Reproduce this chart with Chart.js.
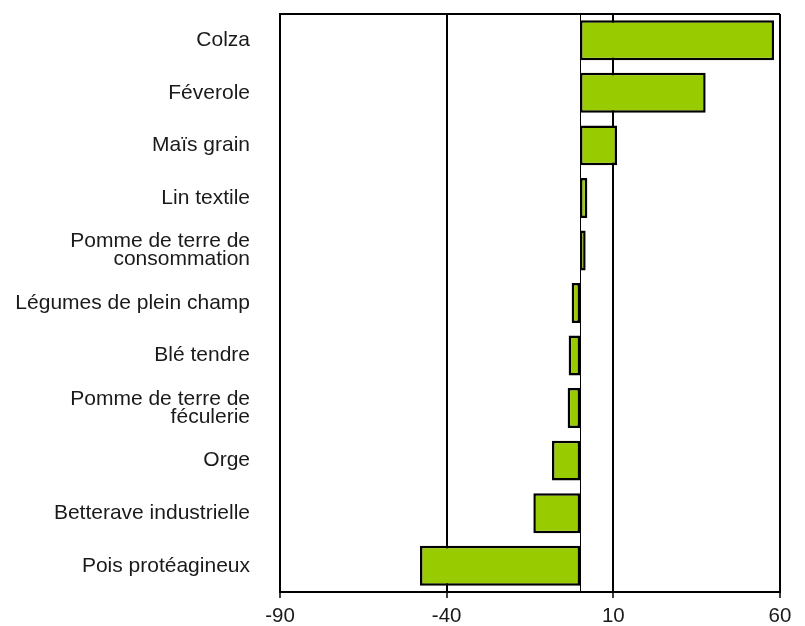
<!DOCTYPE html>
<html>
<head>
<meta charset="utf-8">
<script src="https://cdn.jsdelivr.net/npm/chart.js@4/dist/chart.umd.min.js"></script>
<style>
  html, body { margin: 0; padding: 0; background: #fff; }
</style>
</head>
<body>
<canvas id="cropChart" width="805" height="626"></canvas>
<script>
// Data
const categories = [
    'Colza',
    'Féverole',
    'Maïs grain',
    'Lin textile',
    ['Pomme de terre de', 'consommation'],
    'Légumes de plein champ',
    'Blé tendre',
    ['Pomme de terre de', 'féculerie'],
    'Orge',
    'Betterave industrielle',
    'Pois protéagineux'
];
const values = [58.2, 37.7, 11.1, 2.2, 1.7, -2.5, -3.4, -3.7, -8.4, -14, -48];
const tickValues = [-90, -40, 10, 60];

// Zero line + top frame line
const framePlugin = {
    id: 'frame',
    beforeDatasetsDraw(chart) {
        const { ctx, chartArea, scales } = chart;
        const x0 = Math.round(scales.x.getPixelForValue(0)) + 0.5;
        ctx.save();
        ctx.strokeStyle = '#000';
        ctx.lineWidth = 1;
        ctx.beginPath();
        ctx.moveTo(x0, chartArea.top);
        ctx.lineTo(x0, chartArea.bottom);
        ctx.stroke();
        ctx.lineWidth = 2;
        ctx.beginPath();
        ctx.moveTo(chartArea.left, chartArea.top);
        ctx.lineTo(chartArea.right, chartArea.top);
        ctx.stroke();
        ctx.restore();
    }
};

const ctx = document.getElementById('cropChart').getContext('2d');
const cropChart = new Chart(ctx, {
    type: 'bar',
    data: {
        labels: categories,
        datasets: [{
            data: values,
            backgroundColor: '#99cc00',
            borderColor: '#000',
            borderWidth: 2.5,
            borderSkipped: false,
            barPercentage: 0.76,
            categoryPercentage: 1
        }]
    },
    options: {
        indexAxis: 'y',
        responsive: false,
        animation: false,
        layout: {
            padding: { top: 14, right: 25, left: 0, bottom: 0 }
        },
        plugins: {
            legend: { display: false },
            tooltip: { enabled: false }
        },
        scales: {
            x: {
                min: -90,
                max: 60,
                afterBuildTicks: function(scale) {
                    scale.ticks = tickValues.map(v => ({ value: v }));
                },
                afterFit: function(scale) {
                    scale.height = 34;
                    scale.paddingLeft = 0;
                    scale.paddingRight = 0;
                },
                grid: {
                    color: '#000',
                    lineWidth: 2,
                    tickLength: 6,
                    tickColor: '#000',
                    tickWidth: 1.5
                },
                border: { color: '#000', width: 2 },
                ticks: {
                    color: '#1a1a1a',
                    padding: 6,
                    maxRotation: 0,
                    font: { family: 'Liberation Sans, Arial, sans-serif', size: 20.5 }
                }
            },
            y: {
                afterFit: function(scale) {
                    scale.width = 280;
                    scale.paddingTop = 0;
                    scale.paddingBottom = 0;
                },
                grid: { display: false, drawTicks: false },
                border: { color: '#000', width: 2 },
                ticks: {
                    color: '#1a1a1a',
                    padding: 30,
                    font: { family: 'Liberation Sans, Arial, sans-serif', size: 21, lineHeight: 0.86 }
                }
            }
        }
    },
    plugins: [framePlugin]
});
</script>
</body>
</html>
